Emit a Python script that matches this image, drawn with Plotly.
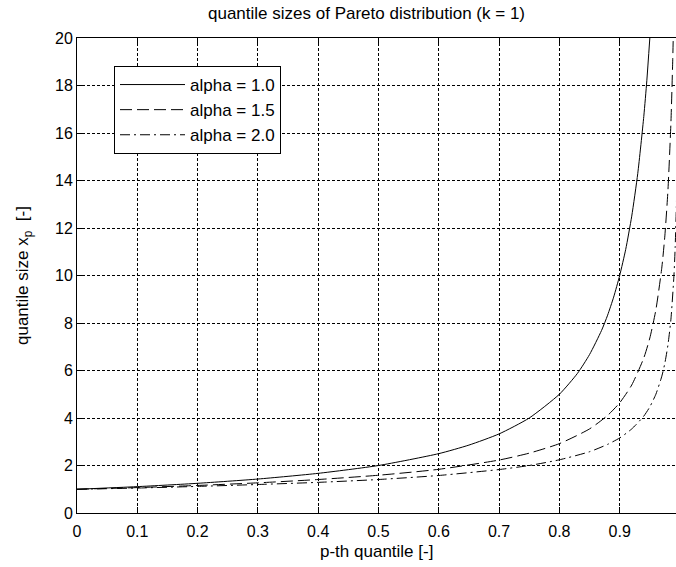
import plotly.graph_objects as go

# Quantile sizes x_p of the Pareto distribution (k = 1), tabulated per shape alpha
p_a10 = [0.0, 0.1, 0.2, 0.3, 0.4, 0.5, 0.6, 0.65, 0.7, 0.75, 0.8, 0.83, 0.85, 0.87,
         0.88, 0.89, 0.9, 0.91, 0.92, 0.93, 0.94, 0.945, 0.95]
x_a10 = [1.00, 1.11, 1.25, 1.43, 1.67, 2.00, 2.50, 2.86, 3.33, 4.00, 5.00, 5.88, 6.67, 7.69,
         8.33, 9.09, 10.0, 11.1, 12.5, 14.3, 16.7, 18.2, 20.0]

p_a15 = [0.0, 0.1, 0.2, 0.3, 0.4, 0.5, 0.6, 0.7, 0.75, 0.8, 0.85, 0.88, 0.9, 0.92,
         0.94, 0.95, 0.96, 0.97, 0.975, 0.98, 0.985, 0.988, 0.99]
x_a15 = [1.00, 1.07, 1.16, 1.27, 1.41, 1.59, 1.84, 2.23, 2.52, 2.92, 3.54, 4.11, 4.64, 5.39,
         6.53, 7.37, 8.55, 10.36, 11.70, 13.57, 16.44, 19.08, 21.5]

p_a20 = [0.0, 0.1, 0.2, 0.3, 0.4, 0.5, 0.6, 0.7, 0.75, 0.8, 0.85, 0.88, 0.9, 0.92,
         0.94, 0.95, 0.96, 0.97, 0.975, 0.98, 0.985, 0.99, 0.992, 0.994, 0.995]
x_a20 = [1.00, 1.05, 1.12, 1.20, 1.29, 1.41, 1.58, 1.83, 2.00, 2.24, 2.58, 2.89, 3.16, 3.54,
         4.08, 4.47, 5.00, 5.77, 6.32, 7.07, 8.16, 10.0, 11.18, 12.91, 14.14]

series_names = ["alpha = 1.0", "alpha = 1.5", "alpha = 2.0"]

x_tick_vals = [0.0, 0.1, 0.2, 0.3, 0.4, 0.5, 0.6, 0.7, 0.8, 0.9]
x_tick_text = ["0", "0.1", "0.2", "0.3", "0.4", "0.5", "0.6", "0.7", "0.8", "0.9"]
y_tick_vals = [0, 2, 4, 6, 8, 10, 12, 14, 16, 18, 20]

FONT = "Liberation Sans, Arial, sans-serif"

# plot area in pixels
L, R, T, B = 77, 676, 38, 513
W, H = R - L, B - T

fig = go.Figure()
styles = [
    dict(color="black", width=1, dash="solid"),
    dict(color="black", width=1, dash="12px,5px"),
    dict(color="black", width=1, dash="10px,4px,2px,4px"),
]
for px, xs, name, st in zip([p_a10, p_a15, p_a20], [x_a10, x_a15, x_a20], series_names, styles):
    fig.add_trace(go.Scatter(x=px, y=xs, mode="lines", name=name,
                             line=dict(shape="spline", smoothing=0.6, **st)))

axis_common = dict(
    showgrid=True, gridcolor="black", gridwidth=1, griddash="3px,2px",
    zeroline=False, showline=True, linecolor="black", linewidth=1,
    ticks="inside", ticklen=6, tickcolor="black",
    tickfont=dict(family=FONT, size=16, color="black"),
)

fig.update_layout(
    width=676, height=567,
    margin=dict(l=L, r=676 - R, t=T, b=567 - B),
    paper_bgcolor="white", plot_bgcolor="white",
    font=dict(family=FONT, size=17, color="black"),
    showlegend=True,
    legend=dict(x=(114 - L) / W, y=1 - (66 - T) / H, xanchor="left", yanchor="top",
                bgcolor="white", bordercolor="black", borderwidth=1,
                font=dict(family=FONT, size=17), itemwidth=65,
                tracegroupgap=0),
    xaxis=dict(range=[0, 0.9934], tickvals=x_tick_vals, ticktext=x_tick_text,
               mirror="ticks", ticklabelstandoff=4, **axis_common),
    yaxis=dict(range=[0, 20], tickvals=y_tick_vals, mirror=False, **axis_common),
    annotations=[
        dict(text="quantile sizes of Pareto distribution (k = 1)", xref="paper", yref="paper",
             x=(366.5 - L) / W, y=1 + (T - 13) / H, xanchor="center", yanchor="middle",
             showarrow=False, font=dict(family=FONT, size=17)),
        dict(text="p-th quantile [-]", xref="paper", yref="paper",
             x=(376.5 - L) / W, y=-(551 - B) / H, xanchor="center", yanchor="middle",
             showarrow=False, font=dict(family=FONT, size=17)),
        dict(text="quantile size x<sub>p</sub>  [-]", xref="paper", yref="paper",
             x=-(L - 24) / W, y=(B - 276) / H, xanchor="center", yanchor="middle",
             showarrow=False, textangle=-90, font=dict(family=FONT, size=17)),
    ],
)

fig.write_html("out.html")
